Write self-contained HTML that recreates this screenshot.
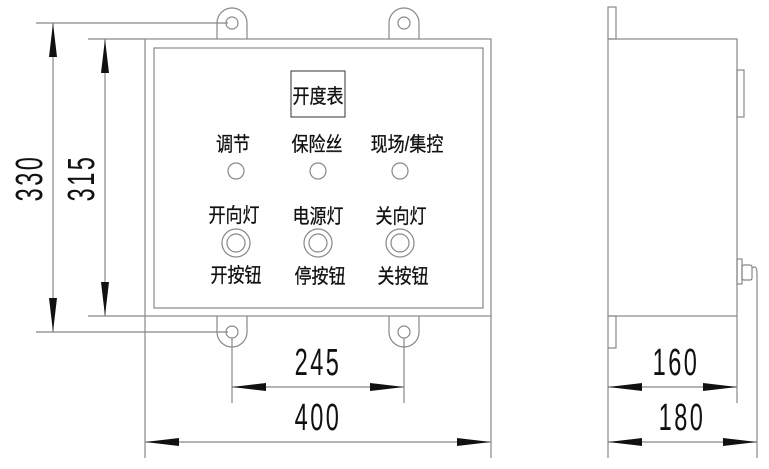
<!DOCTYPE html>
<html><head><meta charset="utf-8"><style>
html,body{margin:0;padding:0;background:#fff;}
svg{display:block;}
.cj{font-family:"Liberation Sans","Noto Sans CJK SC",sans-serif;font-size:20px;fill:#111;stroke:#111;stroke-width:0.3;text-anchor:middle;}
.dim{font-family:"Liberation Sans",sans-serif;font-size:38px;fill:#111;text-anchor:middle;}
</style></head><body>
<svg width="769" height="469" viewBox="0 0 769 469" xmlns="http://www.w3.org/2000/svg">
<g fill="none" stroke="#888" stroke-width="1.2">
<path d="M217 39 V23 A15 15 0 0 1 247 23 V39"/>
<path d="M389 39 V23 A15 15 0 0 1 419 23 V39"/>
<path d="M217 316 V332 A15 15 0 0 0 247 332 V316"/>
<path d="M389 316 V332 A15 15 0 0 0 419 332 V316"/>
<circle cx="232" cy="23" r="6"/><circle cx="404" cy="23" r="6"/>
<circle cx="232" cy="332" r="6"/><circle cx="404" cy="332" r="6"/>
<rect x="145" y="39" width="346" height="277"/>
<rect x="154" y="48" width="329" height="260"/>
<rect x="291" y="71" width="54" height="46" stroke="#555"/>
<circle cx="236" cy="171" r="8"/><circle cx="318" cy="171" r="8"/><circle cx="400" cy="171" r="8"/>
<circle cx="236" cy="243" r="14"/><circle cx="236" cy="243" r="9"/>
<circle cx="318" cy="243" r="14"/><circle cx="318" cy="243" r="9"/>
<circle cx="400" cy="243" r="14"/><circle cx="400" cy="243" r="9"/>
<path d="M36 23 H228 M36 332 H228 M88 39 H145 M88 316 H145"/>
<path d="M232 338 V403 M404 338 V403 M145 316 V458 M491 316 V458"/>
<path d="M53 23 V332 M105 39 V316 M232 387 H404 M145 442 H491"/>
<rect x="608" y="7" width="8" height="32"/>
<rect x="608" y="39" width="129" height="277"/>
<rect x="608" y="316" width="8" height="32"/>
<rect x="737" y="70" width="7" height="47"/>
<rect x="737" y="259" width="5" height="25"/>
<rect x="742" y="265" width="10" height="15" rx="2"/>
<path d="M752 268 Q757 264 757 274 V458"/>
<path d="M608 348 V458 M737 316 V403 M608 387 H737 M608 442 H757"/>
</g>
<g fill="#111">
<path d="M53 23 L49 57 L57 57Z M53 332 L49 298 L57 298Z"/>
<path d="M105 39 L101 73 L109 73Z M105 316 L101 282 L109 282Z"/>
<path d="M232 387 L266 383 L266 391Z M404 387 L370 383 L370 391Z"/>
<path d="M145 442 L179 438 L179 446Z M491 442 L457 438 L457 446Z"/>
<path d="M608 387 L642 383 L642 391Z M737 387 L703 383 L703 391Z"/>
<path d="M608 442 L642 438 L642 446Z M757 442 L723 438 L723 446Z"/>
</g>
<g class="cj">
<text transform="translate(318,103) scale(0.85,1)">开度表</text>
<text transform="translate(233,151) scale(0.85,1)">调节</text>
<text transform="translate(317,151) scale(0.85,1)">保险丝</text>
<text transform="translate(407,151) scale(0.85,1)">现场/集控</text>
<text transform="translate(234,222) scale(0.85,1)">开向灯</text>
<text transform="translate(318,223) scale(0.85,1)">电源灯</text>
<text transform="translate(401,223) scale(0.85,1)">关向灯</text>
<text transform="translate(236,282) scale(0.85,1)">开按钮</text>
<text transform="translate(320,283) scale(0.85,1)">停按钮</text>
<text transform="translate(403,283) scale(0.85,1)">关按钮</text>
</g>
<g class="dim">
<text transform="translate(318,375) scale(0.62,1)" letter-spacing="4">245</text>
<text transform="translate(318,430) scale(0.62,1)" letter-spacing="4">400</text>
<text transform="translate(676,375) scale(0.62,1)" letter-spacing="4">160</text>
<text transform="translate(682,430) scale(0.62,1)" letter-spacing="4">180</text>
<text transform="translate(42,178) rotate(-90) scale(0.62,1)" letter-spacing="4">330</text>
<text transform="translate(94,178) rotate(-90) scale(0.62,1)" letter-spacing="4">315</text>
</g>
</svg>
</body></html>
